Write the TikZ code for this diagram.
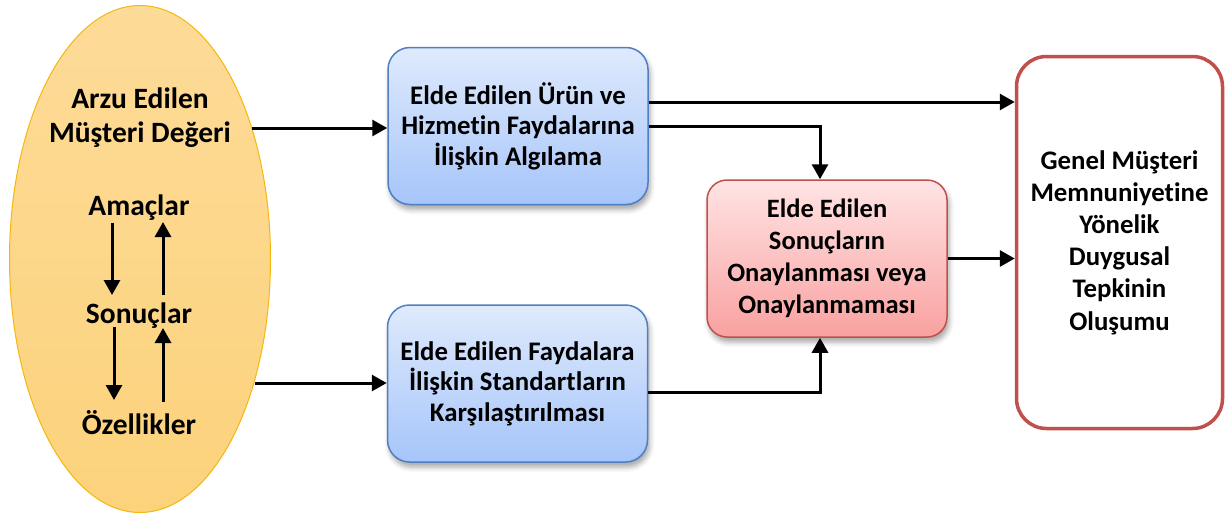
\documentclass[tikz,border=0pt]{standalone}
\usepackage{fontspec}
\setmainfont{Carlito}[Ligatures=NoCommon]
\usetikzlibrary{arrows.meta,shapes.geometric,shadows.blur}

\definecolor{ellT}{HTML}{FDDB98}
\definecolor{ellB}{HTML}{FCD27B}
\definecolor{ellLine}{HTML}{F5B70F}
\definecolor{blueT}{HTML}{DFEAFC}
\definecolor{blueB}{HTML}{A6C5FA}
\definecolor{blueLine}{HTML}{4F7FC0}
\definecolor{redT}{HTML}{FFE4E4}
\definecolor{redB}{HTML}{F9A1A0}
\definecolor{redLine}{HTML}{C0504D}

\tikzset{
  conn/.style={line width=3pt, -{Triangle[length=15pt,width=16pt]}},
  softshadow/.style={blur shadow={shadow xshift=2pt, shadow yshift=-5pt,
      shadow blur radius=5pt, shadow opacity=35}},
  bluebox/.style={rounded corners=22pt, draw=blueLine, line width=1.5pt,
      top color=blueT, bottom color=blueB, minimum width=260pt,
      minimum height=157pt, align=center, softshadow,
      font=\fontsize{26.8}{30.5}\selectfont\bfseries},
  redbox/.style={rounded corners=20pt, draw=redLine, line width=1.5pt,
      top color=redT, bottom color=redB, minimum width=240pt,
      minimum height=157pt, align=center, softshadow,
      font=\fontsize{26.5}{32}\selectfont\bfseries},
  bigbox/.style={rounded corners=30pt, draw=redLine, line width=3.5pt,
      fill=white, minimum width=206pt, minimum height=372pt, align=center,
      font=\fontsize{26.8}{32.2}\selectfont\bfseries},
  goal/.style={ellipse, draw=ellLine, line width=1pt, top color=ellT,
      bottom color=ellB, minimum width=261pt, minimum height=507pt},
  elltext/.style={align=center, font=\fontsize{29.5}{34}\selectfont\bfseries}
}

\begin{document}
\begin{tikzpicture}[x=1pt, y=-1pt]
  \useasboundingbox (0,0) rectangle (1228,515);

  % desired customer value and its chain
  \node[goal] (ell) at (140,259) {};
  \node[elltext] (val) at (140,118) {Arzu Edilen\\Müşteri Değeri};
  \node[elltext] (am) at (139,208) {Amaçlar};
  \node[elltext] (so) at (139,316) {Sonuçlar};
  \node[elltext] (oz) at (139,423) {Özellikler};

  \draw[conn] ([xshift=-27pt,yshift=-15pt]am.center) -- ([xshift=-27pt,yshift=21pt]so.center);
  \draw[conn] ([xshift=24pt,yshift=21pt]so.center) -- ([xshift=24pt,yshift=-14pt]am.center);
  \draw[conn] ([xshift=-25pt,yshift=-11pt]so.center) -- ([xshift=-25pt,yshift=23pt]oz.center);
  \draw[conn] ([xshift=24pt,yshift=21pt]oz.center) -- ([xshift=24pt,yshift=-12pt]so.center);

  % perception and comparison boxes
  \node[bluebox] (b1) at (518,126) {Elde Edilen Ürün ve\\Hizmetin Faydalarına\\İlişkin Algılama};
  \node[bluebox] (b2) at (517.5,383.5) {Elde Edilen Faydalara\\İlişkin Standartların\\Karşılaştırılması};

  % confirmation box
  \node[redbox] (rb) at (827,258.5) {Elde Edilen\\Sonuçların\\Onaylanması veya\\Onaylanmaması};

  % overall emotional response
  \node[bigbox] (big) at (1119.5,242.5) {Genel Müşteri\\Memnuniyetine\\Yönelik\\Duygusal\\Tepkinin\\Oluşumu};

  % connectors
  \coordinate (e1) at (252,128);
  \coordinate (e2) at (255,383);
  \draw[conn] (e1) -- (e1 -| b1.west);
  \draw[conn] (e2) -- (e2 -| b2.west);
  \draw[conn] ([yshift=24pt]b1.east) -- ([yshift=24pt]b1.east -| big.west);
  \draw[conn] (b1.east) -| ([xshift=-7pt]rb.north);
  \draw[conn] ([yshift=-9pt]b2.east) -| ([xshift=-7pt]rb.south);
  \draw[conn] (rb.east) -- (rb.east -| big.west);
\end{tikzpicture}
\end{document}
